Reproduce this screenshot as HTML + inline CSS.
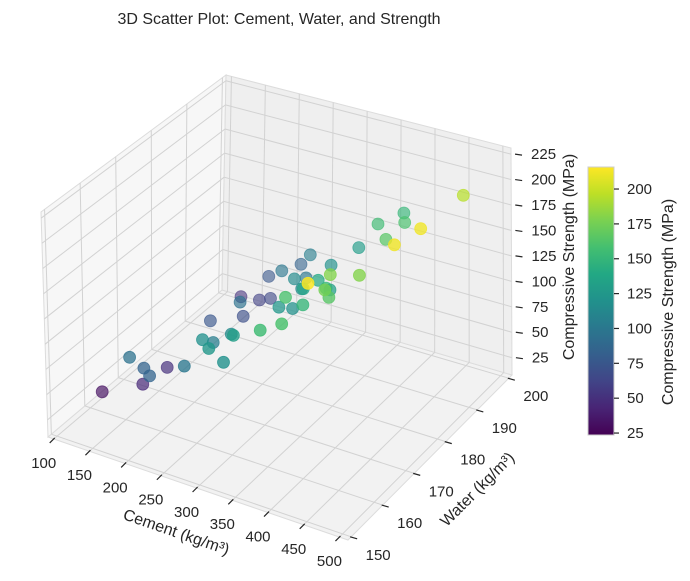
<!DOCTYPE html>
<html><head><meta charset="utf-8"><style>
html,body{margin:0;padding:0;background:#fff;}
svg{display:block;font-family:"Liberation Sans","DejaVu Sans",sans-serif;}
</style></head><body>
<svg id="chart" width="690" height="581" viewBox="0 0 690 581">
<defs>
<linearGradient id="viridis" x1="0" y1="1" x2="0" y2="0">
<stop offset="0" stop-color="#440154"/><stop offset="0.1" stop-color="#482475"/><stop offset="0.2" stop-color="#414487"/><stop offset="0.3" stop-color="#355f8d"/><stop offset="0.4" stop-color="#2a788e"/><stop offset="0.5" stop-color="#21918c"/><stop offset="0.6" stop-color="#22a884"/><stop offset="0.7" stop-color="#44bf70"/><stop offset="0.8" stop-color="#7ad151"/><stop offset="0.9" stop-color="#bddf26"/><stop offset="1" stop-color="#fde725"/>
</linearGradient>
</defs>
<text x="279" y="24" text-anchor="middle" font-size="16" fill="#262626">3D Scatter Plot: Cement, Water, and Strength</text>
<g id="panes"></g>
<g id="grid"></g>
<g id="axes"></g>
<g id="points"></g>
<text x="0" y="0" transform="translate(176,533) rotate(19)" text-anchor="middle" dominant-baseline="middle" font-size="16" fill="#262626">Cement (kg/m³)</text>
<text x="0" y="0" transform="translate(478,490) rotate(-45)" text-anchor="middle" dominant-baseline="middle" font-size="16" fill="#262626">Water (kg/m³)</text>
<text x="0" y="0" transform="translate(570,257) rotate(-90)" text-anchor="middle" dominant-baseline="middle" font-size="16" fill="#262626">Compressive Strength (MPa)</text>
<g id="colorbar">
<rect x="588" y="167" width="26" height="268" fill="url(#viridis)" stroke="#cccccc" stroke-width="1"/>
</g>
<text x="0" y="0" transform="translate(669,302) rotate(-90)" text-anchor="middle" dominant-baseline="middle" font-size="16" fill="#262626">Compressive Strength (MPa)</text>
</svg>
<script>
const cement = [470,369,394,360,483,400,473,337,262,239,316,245,207,287,280,345,400,432,429,307,333,375,357,406,407,355,370,317,327,172,233,208,224,223,200,361,382,287,309,270,266,293,318,186,201,181,258,216,170,122];
const water = [195,198,193,192,179,186,173,191,192,194,187,187,191,182,187,177,169,171,156,180,175,173,178,166,167,165,167,171,173,190,177,188,188,180,175,156,158,163,159,158,162,155,154,154,155,166,155,153.5,161,159];
const strength = [195,150,160,155,212,165,212,130,105,85,120,100,75,115,100,140,180,180,215,115,135,150,130,175,165,160,150,125,120,50,95,60,65,70,75,155,160,115,130,120,105,125,120,95,85,50,100,85,45,32];
const cementTicks = [100,150,200,250,300,350,400,450,500];
const waterTicks = [150,160,170,180,190,200];
const zTicks = [25,50,75,100,125,150,175,200,225];
const cbTicks = [25,50,75,100,125,150,175,200];

const C0=92,C1=512,W0=149,W1=201,Z0=8,Z1=231;
const VMIN=23.6,VMAX=215.8;
const BL={L:[48,437],F:[348,540],B:[222,290],R:[512,375]};
const TP={L:[-7,-225],F:[-3,-234],B:[4,-215],R:[-1,-227]};
const NS="http://www.w3.org/2000/svg";
function bil(P,a,b){
  return [0,1].map(i=>P.L[i]*(1-a)*(1-b)+P.F[i]*a*(1-b)+P.B[i]*(1-a)*b+P.R[i]*a*b);
}
function proj(c,w,z){
  const a=(c-C0)/(C1-C0),b=(w-W0)/(W1-W0),g=(z-Z0)/(Z1-Z0);
  const f=bil(BL,a,b),t=bil(TP,a,b);
  return [f[0]+g*t[0],f[1]+g*t[1]];
}
function mk(tag,attrs,parent){
  const e=document.createElementNS(NS,tag);
  for(const k in attrs)e.setAttribute(k,attrs[k]);
  parent.appendChild(e);return e;
}
function line(p,q,parent,color,w){
  return mk('line',{x1:p[0],y1:p[1],x2:q[0],y2:q[1],stroke:color,'stroke-width':w},parent);
}
const stops=[[68,1,84],[72,36,117],[65,68,135],[53,95,141],[42,120,142],[33,145,140],[34,168,132],[68,191,112],[122,209,81],[189,223,38],[253,231,37]];
function viridis(v){
  let t=Math.max(0,Math.min(1,(v-VMIN)/(VMAX-VMIN)))*10;
  const i=Math.min(9,Math.floor(t)),f=t-i;
  const c=[0,1,2].map(k=>Math.round(stops[i][k]+(stops[i+1][k]-stops[i][k])*f));
  return 'rgb('+c.join(',')+')';
}
const panes=document.getElementById('panes');
const poly=(pts,fill,name)=>{
  const e=mk('polygon',{points:pts.map(p=>p.join(',')).join(' '),fill:fill,stroke:'#dcdcdc','stroke-width':1},panes);
  
  
};
poly([proj(C0,W0,Z0),proj(C1,W0,Z0),proj(C1,W1,Z0),proj(C0,W1,Z0)],'#f2f2f2','floor-pane');
poly([proj(C0,W0,Z0),proj(C0,W1,Z0),proj(C0,W1,Z1),proj(C0,W0,Z1)],'#f7f7f7','left-pane');
poly([proj(C0,W1,Z0),proj(C1,W1,Z0),proj(C1,W1,Z1),proj(C0,W1,Z1)],'#efefef','back-pane');

const grid=document.getElementById('grid');
const GC='#d2d2d2';
cementTicks.forEach(c=>{
  let e=line(proj(c,W0,Z0),proj(c,W1,Z0),grid,GC,1);
  
  
  e=line(proj(c,W1,Z0),proj(c,W1,Z1),grid,GC,1);
  
  
});
waterTicks.forEach(w=>{
  let e=line(proj(C0,w,Z0),proj(C1,w,Z0),grid,GC,1);
  
  
  e=line(proj(C0,w,Z0),proj(C0,w,Z1),grid,GC,1);
  
  
});
zTicks.forEach(z=>{
  let e=line(proj(C0,W0,z),proj(C0,W1,z),grid,GC,1);
  
  
  e=line(proj(C0,W1,z),proj(C1,W1,z),grid,GC,1);
  
  
});

const axes=document.getElementById('axes');
const TXT='#262626';
function label(x,y,s,anchor,parent,name){
  const t=mk('text',{x:x,y:y,'text-anchor':anchor,'dominant-baseline':'middle','font-size':15,fill:TXT},parent);
  t.textContent=s;
  
  
}
cementTicks.forEach(c=>{
  const p=proj(c,W0,Z0);
  const e=line([p[0]+1,p[1]-1],[p[0]-4,p[1]+4],axes,TXT,1.2);
  
  
  label(p[0]-10,p[1]+25,String(c),'middle',axes,'x-tick-label');
});
waterTicks.forEach(w=>{
  const p=proj(C1,w,Z0);
  const e=line([p[0]-1,p[1]],[p[0]+6,p[1]+2],axes,TXT,1.2);
  
  
  label(p[0]+27,p[1]+19,String(w),'middle',axes,'y-tick-label');
});
zTicks.forEach(z=>{
  const q=proj(C1,W1,z);
  const e=line([q[0]+4,q[1]],[q[0]+11,q[1]+1],axes,TXT,1.2);
  
  
  label(q[0]+20,q[1]+1,String(z),'start',axes,'z-tick-label');
});

const pts=document.getElementById('points');
const order=cement.map((c,i)=>{
  const a=(c-C0)/(C1-C0),b=(water[i]-W0)/(W1-W0);
  return {i:i,t:(1-a)*0.5+b*0.5};
}).sort((p,q)=>q.t-p.t);
order.forEach(o=>{
  const i=o.i;
  const p=proj(cement[i],water[i],strength[i]);
  const col=viridis(strength[i]);
  const al=(0.92-0.42*Math.max(0,Math.min(1,o.t))).toFixed(2);
  const e=mk('circle',{cx:p[0].toFixed(1),cy:p[1].toFixed(1),r:6,fill:col,'fill-opacity':al,stroke:col,'stroke-opacity':al,'stroke-width':0.8},pts);
  
  
});

const cb=document.getElementById('colorbar');
cbTicks.forEach(v=>{
  const y=435-(v-VMIN)/(VMAX-VMIN)*268;
  const e=line([614,y],[619,y],cb,TXT,1.2);
  
  
  label(627,y+1,String(v),'start',cb,'colorbar-tick-label');
});
</script>
</body></html>
